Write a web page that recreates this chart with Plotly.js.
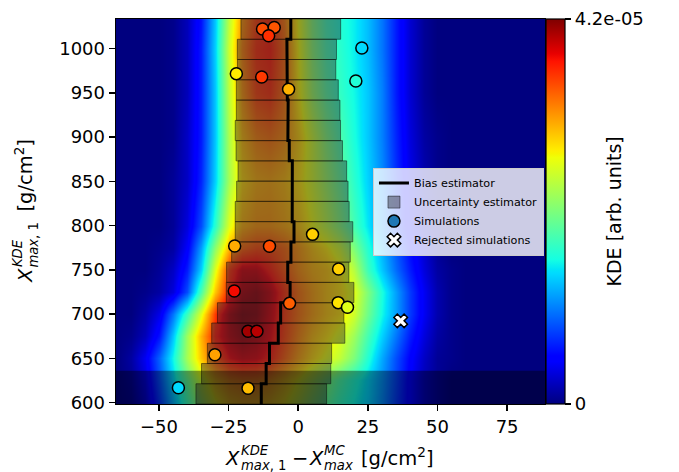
<!DOCTYPE html>
<html><head><meta charset="utf-8">
<script src="https://cdn.plot.ly/plotly-3.0.1.min.js"></script>
<style>html,body{margin:0;padding:0;background:#fff}#chart{width:679px;height:472px}</style>
</head><body><div id="chart"></div><script>
// ---------- data ----------
const xRange = [-65.4, 88.6];
const yRange = [598.3, 1033.6];
const xTicks = [-50, -25, 0, 25, 50, 75];
const yTicks = [600, 650, 700, 750, 800, 850, 900, 950, 1000];
const kdeMax = 4.2e-05;
const cbTickText = ['0', '4.2e-05'];

// KDE grid (fraction of kdeMax)
const kdeX = [-65,-60,-55,-50,-45,-40,-35,-30,-25,-20,-15,-10,-5,0,5,10,15,20,25,30,35,40,45,50,55,60,90];
const kdeY = [598,625,650,675,700,725,750,775,800,850,900,950,1000,1035];
const kdeRel = [
 [0,0.01,0.06,0.17,0.30,0.42,0.54,0.63,0.69,0.71,0.71,0.69,0.65,0.59,0.52,0.46,0.41,0.37,0.33,0.26,0.18,0.11,0.05,0.02,0,0,0],
 [0,0.02,0.08,0.20,0.34,0.47,0.60,0.70,0.76,0.78,0.78,0.75,0.70,0.64,0.57,0.50,0.44,0.39,0.34,0.27,0.19,0.11,0.05,0.02,0,0,0],
 [0,0.03,0.10,0.22,0.37,0.55,0.70,0.82,0.90,0.93,0.92,0.88,0.81,0.74,0.68,0.63,0.58,0.50,0.39,0.29,0.20,0.12,0.06,0.02,0.01,0,0],
 [0,0.01,0.05,0.14,0.32,0.54,0.72,0.88,0.95,0.98,0.96,0.91,0.84,0.77,0.71,0.67,0.62,0.54,0.43,0.33,0.24,0.15,0.08,0.03,0.01,0,0],
 [0,0,0.03,0.09,0.24,0.42,0.62,0.85,0.96,1.00,0.99,0.93,0.85,0.79,0.74,0.70,0.67,0.60,0.48,0.37,0.28,0.18,0.10,0.04,0.01,0,0],
 [0,0,0.01,0.03,0.08,0.20,0.44,0.70,0.88,0.96,0.98,0.94,0.86,0.79,0.74,0.70,0.67,0.62,0.50,0.38,0.28,0.18,0.10,0.04,0.01,0,0],
 [0,0,0,0.02,0.06,0.15,0.33,0.62,0.85,0.93,0.93,0.88,0.82,0.76,0.72,0.70,0.66,0.57,0.42,0.32,0.23,0.15,0.08,0.03,0.01,0,0],
 [0,0,0,0.01,0.03,0.11,0.28,0.52,0.72,0.80,0.83,0.83,0.80,0.75,0.70,0.66,0.60,0.50,0.39,0.30,0.21,0.13,0.07,0.02,0,0,0],
 [0,0,0,0,0.02,0.08,0.20,0.40,0.62,0.72,0.75,0.75,0.73,0.70,0.64,0.58,0.51,0.43,0.35,0.27,0.18,0.10,0.05,0.02,0,0,0],
 [0,0,0,0,0.02,0.06,0.16,0.33,0.55,0.68,0.72,0.73,0.71,0.67,0.61,0.54,0.47,0.40,0.33,0.26,0.17,0.09,0.04,0.01,0,0,0],
 [0,0,0,0,0.01,0.06,0.15,0.32,0.56,0.71,0.77,0.79,0.76,0.69,0.60,0.51,0.44,0.38,0.32,0.25,0.16,0.08,0.03,0.01,0,0,0],
 [0,0,0,0,0.01,0.05,0.15,0.32,0.58,0.75,0.84,0.86,0.79,0.66,0.54,0.46,0.41,0.37,0.32,0.25,0.15,0.07,0.02,0,0,0,0],
 [0,0,0,0,0.01,0.05,0.15,0.33,0.60,0.77,0.86,0.88,0.80,0.65,0.52,0.44,0.40,0.36,0.31,0.24,0.15,0.07,0.02,0,0,0,0],
 [0,0,0,0,0.01,0.05,0.14,0.32,0.58,0.75,0.84,0.86,0.78,0.64,0.51,0.43,0.39,0.36,0.31,0.24,0.15,0.07,0.02,0,0,0,0]
];

// bins (bottom to top)
const binEdges = [598.3,621.2,644.1,667.0,689.9,712.8,735.8,758.7,781.6,804.5,827.4,850.3,873.2,896.1,919.0,941.9,964.9,987.8,1010.7,1033.6];
const biasEst = [-13.25,-11.5,-10.3,-7.15,-6.3,-2.9,-3.75,-2.6,-1.5,-2.15,-2.1,-2.1,-3.2,-3.7,-3.6,-3.9,-4.15,-4.05,-2.65];
const uncEst  = [23.45,23.2,22.3,23.9,22.7,22.9,21.95,21.3,21.1,20.45,20.0,19.5,19.1,18.9,18.6,18.3,17.65,17.8,17.9];

// simulations
const simX = [-12.8,-8.6,-10.6,22.85,-22.2,-13.1,20.7,-3.45,5.15,-22.8,-10.3,14.5,-22.95,-3.1,14.35,17.7,-18.0,-14.8,-29.9,-43.0,-18.0];
const simY = [1022.3,1024.1,1014.7,1000.8,971.8,968.0,963.5,954.1,790.1,777.0,776.6,751.0,726.0,712.1,712.9,707.6,680.5,680.5,653.9,616.6,616.2];
const simKDE = [0.83,0.82,0.86,0.34,0.66,0.85,0.39,0.72,0.69,0.73,0.83,0.69,0.90,0.81,0.67,0.62,0.97,0.95,0.74,0.34,0.71];
const rejX = [36.8];
const rejY = [692.3];
const cutY = 636; // shaded (excluded) region below this

// ---------- derived ----------
const jet = [[0,'rgb(0,0,127)'],[0.11,'rgb(0,0,255)'],[0.125,'rgb(0,0,255)'],[0.34,'rgb(0,219,255)'],[0.35,'rgb(0,229,247)'],[0.375,'rgb(21,255,226)'],[0.64,'rgb(239,255,8)'],[0.65,'rgb(247,245,0)'],[0.66,'rgb(255,236,0)'],[0.89,'rgb(255,19,0)'],[0.91,'rgb(232,0,0)'],[1,'rgb(127,0,0)']];
const kdeZ = kdeRel.map(r => r.map(v => v * kdeMax));
const binCenters = [], binWidths = [], barBase = [], barLen = [];
const stepX = [], stepY = [];
for (let i = 0; i < biasEst.length; i++) {
  binCenters.push((binEdges[i] + binEdges[i+1]) / 2);
  binWidths.push(binEdges[i+1] - binEdges[i]);
  barBase.push(biasEst[i] - uncEst[i]);
  barLen.push(2 * uncEst[i]);
  stepX.push(biasEst[i], biasEst[i]);
  stepY.push(binEdges[i], binEdges[i+1]);
}

const traces = [
  {type:'heatmap', x:kdeX, y:kdeY, z:kdeZ, zsmooth:'best', colorscale:jet, zmin:0, zmax:kdeMax,
   hoverinfo:'skip', showlegend:false,
   colorbar:{x:1.002, xanchor:'left', xpad:0, y:0.5, yanchor:'middle', ypad:0, len:1, lenmode:'fraction',
     thickness:19, thicknessmode:'pixels', outlinewidth:1.2, outlinecolor:'black',
     tickvals:[0, kdeMax], ticktext:cbTickText, ticks:'outside', ticklen:6, tickwidth:1.3, tickcolor:'black',
     tickfont:{size:18, family:'DejaVu Sans', color:'black'}}},
  {type:'scatter', mode:'none', x:[xRange[0], xRange[1], xRange[1], xRange[0]], y:[yRange[0], yRange[0], cutY, cutY],
   fill:'toself', fillcolor:'rgba(0,0,0,0.4)', showlegend:false, hoverinfo:'skip'},
  {type:'scatter', mode:'lines', x:stepX, y:stepY, line:{color:'black', width:3}, name:'Bias estimator'},
  {type:'bar', orientation:'h', y:binCenters, x:barLen, base:barBase, width:binWidths,
   marker:{color:'rgba(40,40,55,0.45)', line:{color:'rgba(0,0,0,0.45)', width:1}}, name:'Uncertainty estimator'},
  {type:'scatter', mode:'markers', x:simX, y:simY, showlegend:false,
   marker:{size:12, color:simKDE.map(v => v * kdeMax), colorscale:jet, cmin:0, cmax:kdeMax, showscale:false,
     line:{color:'black', width:1.5}}},
  {type:'scatter', mode:'markers', x:[null], y:[null], name:'Simulations',
   marker:{size:12, color:'#1f77b4', line:{color:'black', width:1.5}}},
  {type:'scatter', mode:'markers', x:rejX, y:rejY, name:'Rejected simulations',
   marker:{symbol:'x', size:12, color:'white', line:{color:'black', width:1.5}}}
];

// ---------- axis titles built from pieces so that super/subscripts stack ----------
const ML = 116, MT = 19, PW = 429, PH = 385, FB = 19.5, FS = 13.2;
const px = v => (v - ML) / PW;
const py = v => (MT + PH - v) / PH;
const ann = [];
function hPiece(text, left, baseline, size) {
  ann.push({text, xref:'paper', yref:'paper', x:px(left), y:py(baseline + 0.236 * size), borderpad:0,
    xanchor:'left', yanchor:'bottom', showarrow:false, font:{size, family:'DejaVu Sans', color:'black'}});
}
function vPiece(text, baselineX, start, size) {
  ann.push({text, xref:'paper', yref:'paper', x:px(baselineX + 0.236 * size), y:py(start), borderpad:0,
    xanchor:'right', yanchor:'bottom', textangle:-90, showarrow:false, font:{size, family:'DejaVu Sans', color:'black'}});
}
// x axis title
hPiece('<i>X</i>', 224, 466, FB);
hPiece('<i>KDE</i>', 239.5, 455.5, FS);
hPiece('<i>max</i>, 1', 239.5, 471, FS);
hPiece('−', 290.5, 466, FB);
hPiece('<i>X</i>', 307.5, 466, FB);
hPiece('<i>MC</i>', 322.5, 455.5, FS);
hPiece('<i>max</i>', 322.5, 471, FS);
hPiece('[g/cm<sup>2</sup>]', 360, 466, FB);
// y axis title (reads upwards)
vPiece('<i>X</i>', 33.5, 284, FB);
vPiece('<i>KDE</i>', 23, 268.5, FS);
vPiece('<i>max</i>, 1', 38.5, 268.5, FS);
vPiece('[g/cm<sup>2</sup>]', 33.5, 213, FB);
// colorbar label
ann.push({text:'KDE [arb. units]', xref:'paper', yref:'paper', x:px(613), y:0.5, textangle:-90,
  showarrow:false, font:{size:19, family:'DejaVu Sans', color:'black'}, xanchor:'center', yanchor:'middle'});

const layout = {
  width:679, height:472,
  margin:{l:ML, r:134, t:MT, b:68, pad:0},
  paper_bgcolor:'white', plot_bgcolor:'white',
  font:{family:'DejaVu Sans', size:18, color:'black'},
  xaxis:{range:xRange, tickvals:xTicks, ticks:'outside', ticklen:6, tickwidth:1.4, tickcolor:'black',
    showline:true, mirror:true, linecolor:'black', linewidth:1.4, showgrid:false, zeroline:false,
    tickfont:{size:18}},
  yaxis:{range:yRange, tickvals:yTicks, ticks:'outside', ticklen:6, tickwidth:1.4, tickcolor:'black',
    showline:true, mirror:true, linecolor:'black', linewidth:1.4, showgrid:false, zeroline:false,
    tickfont:{size:18}},
  legend:{x:0.599, y:0.614, xanchor:'left', yanchor:'top', bgcolor:'rgba(255,255,255,0.8)',
    bordercolor:'#cccccc', borderwidth:1, font:{size:11.2}, tracegroupgap:0},
  annotations:ann
};

Plotly.newPlot('chart', traces, layout, {staticPlot:true, displayModeBar:false});
</script></body></html>
